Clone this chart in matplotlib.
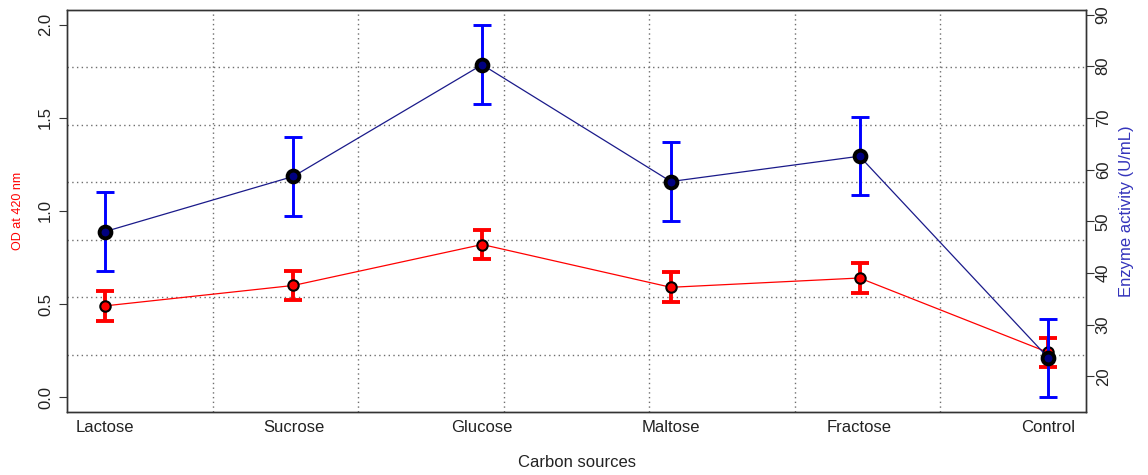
import numpy as np
import matplotlib.pyplot as plt

plt.rcParams['font.family'] = ['Liberation Sans', 'DejaVu Sans']

# data
carbon_sources = ['Lactose', 'Sucrose', 'Glucose', 'Maltose', 'Fractose', 'Control']
od_420 = [0.49, 0.60, 0.82, 0.59, 0.64, 0.24]
od_err = [0.08, 0.08, 0.08, 0.08, 0.08, 0.08]
enzyme = [48.0, 58.7, 80.3, 57.7, 62.6, 23.6]
enzyme_err = [7.6, 7.6, 7.6, 7.6, 7.6, 7.6]
od_ticks = [0.0, 0.5, 1.0, 1.5, 2.0]
enzyme_ticks = [20, 30, 40, 50, 60, 70, 80, 90]

x = np.arange(1, len(carbon_sources) + 1)

fig = plt.figure(figsize=(11.48, 4.75), dpi=100)
ax = fig.add_axes([67/1148, 63/475, 1019/1148, 402/475])
ax2 = ax.twinx()

# R style limits (4% padding)
ax.set_xlim(0.8, 6.2)
ax.set_ylim(-0.08, 2.08)
lo, hi = 16.0, 88.0
pad = 0.04 * (hi - lo)
ax2.set_ylim(lo - pad, hi + pad)

# grid(7, 7) dotted
for f in np.linspace(0, 1, 8)[1:-1]:
    ax.plot([f, f], [0, 1], transform=ax.transAxes, color='#6e6e6e',
            lw=1.0, ls=(0, (1, 2.4)), zorder=0)
    ax.plot([0, 1], [f, f], transform=ax.transAxes, color='#6e6e6e',
            lw=1.0, ls=(0, (1, 2.4)), zorder=0)

# OD series
ax.errorbar(x, od_420, yerr=od_err, fmt='none', ecolor='#ff0000',
            elinewidth=2.8, capsize=6.4, capthick=2.8, zorder=2)
ax.plot(x, od_420, '-', color='#ff0000', lw=0.9, zorder=3)
ax.plot(x, od_420, 'o', ms=7.5, mfc='#ff0000', mec='black', mew=1.5, zorder=4)

# enzyme series
ax2.errorbar(x, enzyme, yerr=enzyme_err, fmt='none', ecolor='#0000ff',
             elinewidth=2.1, capsize=6.2, capthick=2.1, zorder=2)
ax2.plot(x, enzyme, '-', color='#1a1a8a', lw=0.9, zorder=3)
ax2.plot(x, enzyme, 'o', ms=8.5, mfc='#000080', mec='black', mew=2.8, zorder=4)

# axes
ax.set_xticks(x)
ax.set_xticklabels(carbon_sources, fontsize=12, color='#222222')
ax.tick_params(axis='x', length=0, pad=6)
ax.set_yticks(od_ticks)
ax.set_yticklabels(['%.1f' % v for v in od_ticks], fontsize=12,
                   rotation=90, va='center', color='#222222')
ax.tick_params(axis='y', length=6, width=0.8, pad=4, color='#333333')
ax2.set_yticks(enzyme_ticks)
ax2.set_yticklabels([str(v) for v in enzyme_ticks], fontsize=12,
                    rotation=90, va='center', color='#222222')
ax2.tick_params(axis='y', length=6, width=0.8, pad=1, color='#333333')

for a in (ax, ax2):
    for s in a.spines.values():
        s.set_color('#333333')
        s.set_linewidth(1.0)

ax.set_xlabel('Carbon sources', fontsize=12, color='#222222', labelpad=14)
ax.set_ylabel('OD at 420 nm', fontsize=9, color='#ff0000', labelpad=10)
ax2.set_ylabel('Enzyme activity (U/mL)', fontsize=12, color='#3333bb',
               labelpad=6)

fig.savefig('out.png', dpi=100)
